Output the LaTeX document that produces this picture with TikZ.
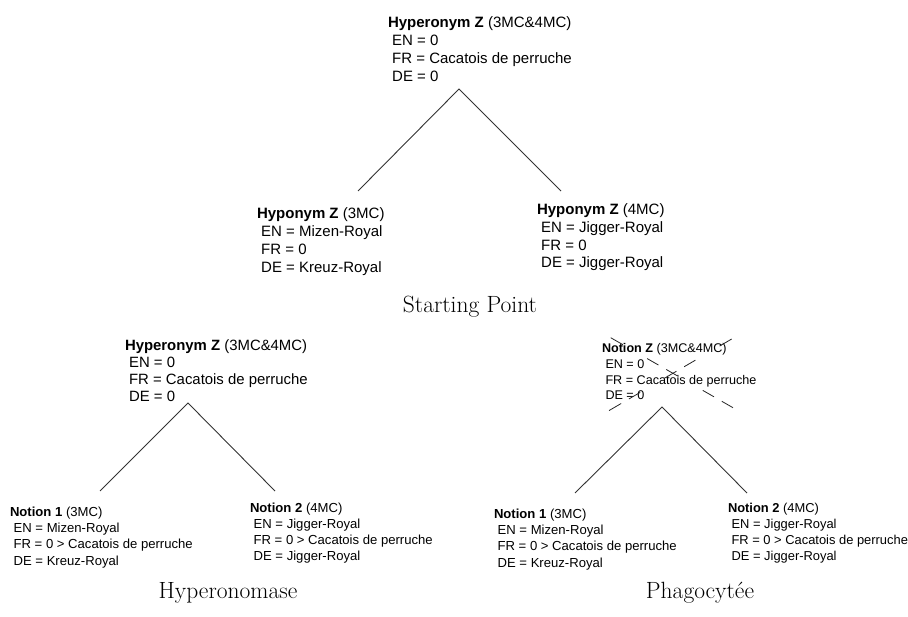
\documentclass[tikz,border=0pt]{standalone}
\usepackage{fontspec}
\newfontfamily\labelfont{Liberation Sans}

% one term: bold name, its scope, and the three language entries
\newcommand\termblock[5]{\begin{tabular}[t]{@{}l@{}}\textbf{#1} #2\\\ EN = #3\\\ FR = #4\\\ DE = #5\end{tabular}}

\tikzset{
  entry/.style={anchor=base west, inner sep=0pt, outer sep=0pt},
  bigterm/.style={entry, font={\labelfont\fontsize{15}{17.8}\selectfont}},
  midterm/.style={entry, font={\labelfont\fontsize{14.9}{17}\selectfont}},
  smallhead/.style={entry, font={\labelfont\fontsize{12.6}{15.6}\selectfont}},
  smallterm/.style={entry, font={\labelfont\fontsize{13.1}{16.2}\selectfont}},
  edgeterm/.style={entry, font={\labelfont\fontsize{12.9}{16.2}\selectfont}},
  branch/.style={line width=0.9pt, draw=black!80},
  crossout/.style={line width=0.8pt, draw=black!85, dash pattern=on 14pt off 28pt on 13pt off 9pt},
  caption/.style={anchor=base, inner sep=0pt, font=\fontsize{23.5}{26}\selectfont}
}

\begin{document}
\begin{tikzpicture}[x=1pt, y=-1pt]
\useasboundingbox (0,0) rectangle (908,617);

% ---- starting point ----
\node[bigterm] (hyper) at (388,27.7)
  {\termblock{Hyperonym Z}{(3MC\&4MC)}{0}{Cacatois de perruche}{0}};
\node[bigterm] (hypoA) at (257,219)
  {\termblock{Hyponym Z}{(3MC)}{Mizen-Royal}{0}{Kreuz-Royal}};
\node[bigterm] (hypoB) at (537,214.5)
  {\termblock{Hyponym Z}{(4MC)}{Jigger-Royal}{0}{Jigger-Royal}};
\coordinate (hyperfork) at (459,89);
\coordinate (hypoAtop) at (358,191);
\coordinate (hypoBtop) at (561,191);
\draw[branch] (hypoAtop) -- (hyperfork) -- (hypoBtop);
\node[caption] (capstart) at (470,313) {Starting Point};

% ---- hyperonomase ----
\node[midterm] (hmHyper) at (125,350.5)
  {\termblock{Hyperonym Z}{(3MC\&4MC)}{0}{Cacatois de perruche}{0}};
\node[smallterm] (hmOne) at (10,516.5)
  {\termblock{Notion 1}{(3MC)}{Mizen-Royal}{0 > Cacatois de perruche}{Kreuz-Royal}};
\node[smallterm] (hmTwo) at (250,512)
  {\termblock{Notion 2}{(4MC)}{Jigger-Royal}{0 > Cacatois de perruche}{Jigger-Royal}};
\coordinate (hmfork) at (188,403);
\coordinate (hmOnetop) at (100,491);
\coordinate (hmTwotop) at (275,491);
\draw[branch] (hmOnetop) -- (hmfork) -- (hmTwotop);
\node[caption] (caphm) at (228,598) {Hyperonomase};

% ---- phagocytee ----
\node[smallhead] (phNotion) at (602,353)
  {\termblock{Notion Z}{(3MC\&4MC)}{0}{Cacatois de perruche}{0}};
\node[smallterm] (phOne) at (494,518.5)
  {\termblock{Notion 1}{(3MC)}{Mizen-Royal}{0 > Cacatois de perruche}{Kreuz-Royal}};
\node[edgeterm] (phTwo) at (728,512)
  {\termblock{Notion 2}{(4MC)}{Jigger-Royal}{0 > Cacatois de perruche}{Jigger-Royal}};
\coordinate (phfork) at (662,407);
\coordinate (phOnetop) at (575,493);
\coordinate (phTwotop) at (747,493);
\draw[branch] (phOnetop) -- (phfork) -- (phTwotop);
% the absorbed notion is struck through
\coordinate (strikeA1) at (610.7,337.7);
\coordinate (strikeA2) at (733,407.7);
\coordinate (strikeB1) at (731.7,339);
\coordinate (strikeB2) at (608.3,411);
\draw[crossout] (strikeA1) -- (strikeA2);
\draw[crossout] (strikeB1) -- (strikeB2);
\node[caption] (capph) at (700,598) {Phagocytée};
\end{tikzpicture}
\end{document}
